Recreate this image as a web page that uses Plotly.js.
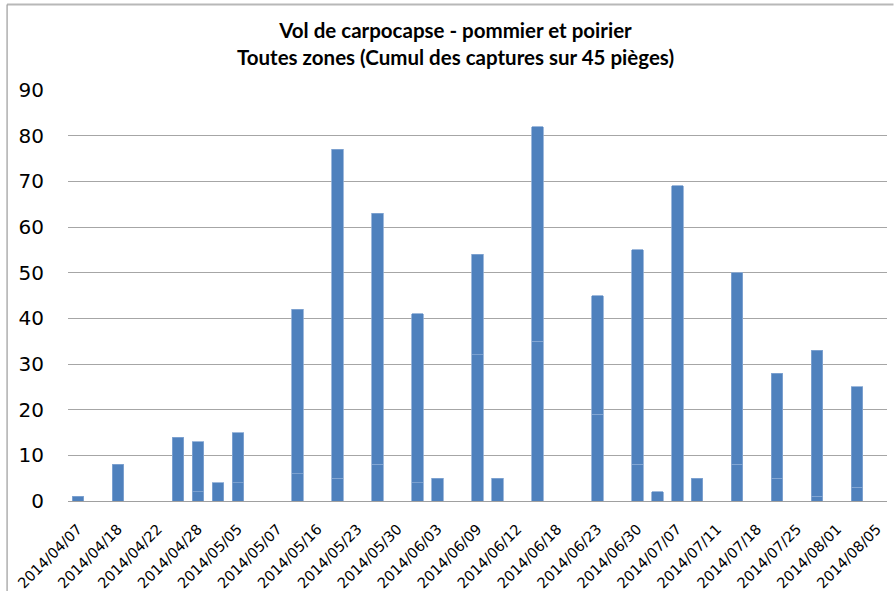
<!DOCTYPE html>
<html>
<head>
<meta charset="utf-8">
<script src="https://cdn.plot.ly/plotly-3.0.1.min.js"></script>
<style>
  html, body { margin: 0; padding: 0; background: #ffffff; }
  #chart { width: 894px; height: 591px; }
</style>
</head>
<body>
<div id="chart"></div>
<script>
// Tick labels shown under every second category slot
const tickLabels = [
  "2014/04/07", "2014/04/18", "2014/04/22", "2014/04/28", "2014/05/05",
  "2014/05/07", "2014/05/16", "2014/05/23", "2014/05/30", "2014/06/03",
  "2014/06/09", "2014/06/12", "2014/06/18", "2014/06/23", "2014/06/30",
  "2014/07/07", "2014/07/11", "2014/07/18", "2014/07/25", "2014/08/01",
  "2014/08/05"
];

// Captures, lower stacked part (41 category slots)
const capturesLower = [
  1, null, 8, null, null, 14, 2, 4, 4, null,
  null, 6, null, 5, null, 8, null, 4, 5, null,
  32, 5, null, 35, null, null, 19, null, 8, 2,
  69, 5, null, 8, null, 5, null, 1, null, 3,
  null
];

// Captures, upper stacked part
const capturesUpper = [
  null, null, null, null, null, null, 11, null, 11, null,
  null, 36, null, 72, null, 55, null, 37, null, null,
  22, null, null, 47, null, null, 26, null, 47, null,
  null, null, null, 42, null, 23, null, 32, null, 22,
  null
];

const slots = capturesLower.map((_, i) => i);
const tickSlots = tickLabels.map((_, i) => i * 2);

const barColor = "#4f81bd";
const barEdge = "#86a8d3";

const traces = [
  {
    type: "bar", x: slots, y: capturesLower, name: "Captures (a)",
    marker: { color: barColor, line: { color: barEdge, width: 0.8 } },
    hoverinfo: "skip"
  },
  {
    type: "bar", x: slots, y: capturesUpper, name: "Captures (b)",
    marker: { color: barColor, line: { color: barEdge, width: 0.8 } },
    hoverinfo: "skip"
  }
];

const layout = {
  width: 894, height: 591,
  margin: { l: 67.5, r: 6.5, t: 90, b: 90, pad: 0 },
  paper_bgcolor: "#ffffff", plot_bgcolor: "#ffffff",
  showlegend: false,
  barmode: "stack",
  bargap: 0.425,
  title: {
    text: "<b>Vol de carpocapse - pommier et poirier</b><br><b>Toutes zones (Cumul des captures sur 45 pièges)</b>",
    font: { family: "Lato, 'Liberation Sans', sans-serif", size: 20.5, color: "#000000" },
    x: 0.5095, xref: "container", xanchor: "center",
    y: 0.935, yref: "container", yanchor: "top"
  },
  xaxis: {
    type: "linear",
    range: [-0.5, 40.5],
    tickmode: "array", tickvals: tickSlots, ticktext: tickLabels,
    tickangle: -45,
    tickfont: { family: "'DejaVu Sans', sans-serif", size: 14.5, color: "#000000" },
    ticks: "", ticklabelstandoff: 13,
    showgrid: false, zeroline: false,
    showline: true, linecolor: "#a0a0a0", linewidth: 1
  },
  yaxis: {
    range: [0, 90], dtick: 10, tick0: 0,
    tickfont: { family: "'DejaVu Sans', sans-serif", size: 20, color: "#000000" },
    ticks: "", ticklabelstandoff: 23,
    showgrid: true, gridcolor: "#a6a6a6", gridwidth: 1,
    zeroline: false, showline: false
  },
  shapes: [
    { type: "line", xref: "paper", yref: "paper",
      x0: (6.5 - 67.5) / 820, x1: (894 - 67.5) / 820,
      y0: (501 - 4.5) / 411, y1: (501 - 4.5) / 411,
      line: { color: "#b8b8b8", width: 2 } },
    { type: "line", xref: "paper", yref: "paper",
      x0: (6.5 - 67.5) / 820, x1: (6.5 - 67.5) / 820,
      y0: (501 - 591) / 411, y1: (501 - 4.5) / 411,
      line: { color: "#9a9a9a", width: 1.2 } }
  ]
};

Plotly.newPlot("chart", traces, layout, { staticPlot: true, displayModeBar: false });
</script>
</body>
</html>
